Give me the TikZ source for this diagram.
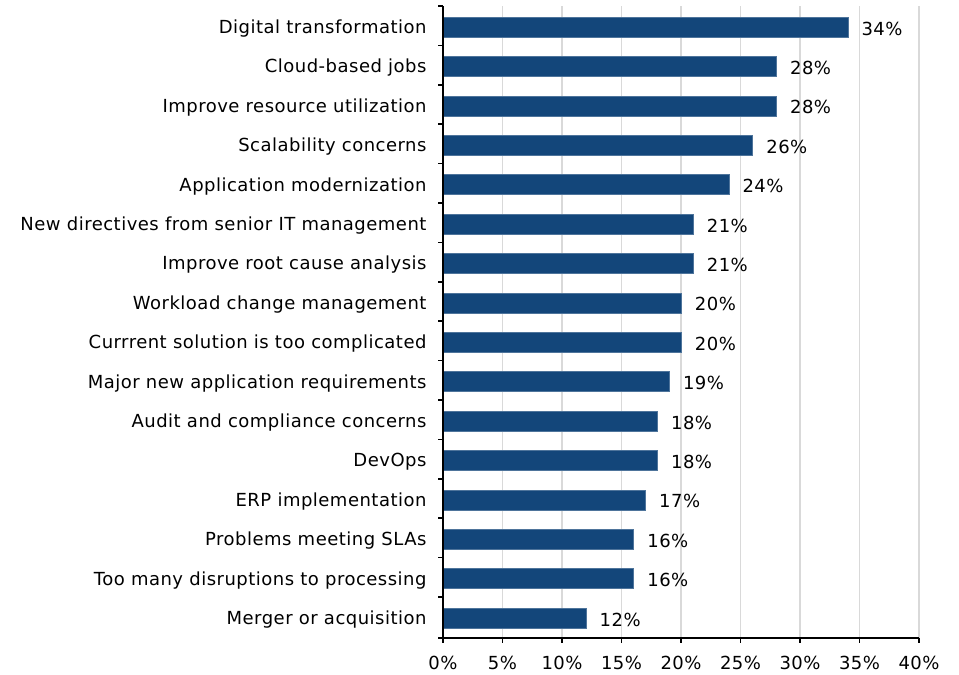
\documentclass[tikz,border=0pt]{standalone}
\usepackage{fontspec}
\setmainfont[LetterSpace=2.7]{DejaVu Sans}
\usetikzlibrary{positioning}

\definecolor{barblue}{RGB}{19,70,122}
\definecolor{gridgray}{RGB}{217,217,217}

\begin{document}
\begin{tikzpicture}[x=1pt,y=-1pt,font=\fontsize{18}{21}\selectfont]

\tikzstyle{bar} = [rectangle, anchor=west, inner sep=0pt, minimum height=20pt, draw=barblue!75!white, fill=barblue]
\tikzstyle{label} = [left=13pt of #1, yshift=-1.5pt]
\tikzstyle{value} = [right=10pt of #1, yshift=-1.5pt]
\tikzstyle{grid} = [gridgray, line width=1.5pt]
\tikzstyle{axis} = [black, line width=1.5pt]

\useasboundingbox (0,0) rectangle (959,675);

% grid
\draw [grid] (502.5,6) -- (502.5,638);
\draw [grid] (562,6) -- (562,638);
\draw [grid] (621.5,6) -- (621.5,638);
\draw [grid] (681,6) -- (681,638);
\draw [grid] (740.5,6) -- (740.5,638);
\draw [grid] (800,6) -- (800,638);
\draw [grid] (859.5,6) -- (859.5,638);
\draw [grid] (919,6) -- (919,638);

% bars
\node (b1) [bar, minimum width=34*11.9pt] at (443,27) {};
\node (b2) [bar, minimum width=28*11.9pt] at (443,66.4) {};
\node (b3) [bar, minimum width=28*11.9pt] at (443,105.8) {};
\node (b4) [bar, minimum width=26*11.9pt] at (443,145.2) {};
\node (b5) [bar, minimum width=24*11.9pt] at (443,184.6) {};
\node (b6) [bar, minimum width=21*11.9pt] at (443,224) {};
\node (b7) [bar, minimum width=21*11.9pt] at (443,263.4) {};
\node (b8) [bar, minimum width=20*11.9pt] at (443,302.8) {};
\node (b9) [bar, minimum width=20*11.9pt] at (443,342.2) {};
\node (b10) [bar, minimum width=19*11.9pt] at (443,381.6) {};
\node (b11) [bar, minimum width=18*11.9pt] at (443,421) {};
\node (b12) [bar, minimum width=18*11.9pt] at (443,460.4) {};
\node (b13) [bar, minimum width=17*11.9pt] at (443,499.8) {};
\node (b14) [bar, minimum width=16*11.9pt] at (443,539.2) {};
\node (b15) [bar, minimum width=16*11.9pt] at (443,578.6) {};
\node (b16) [bar, minimum width=12*11.9pt] at (443,618) {};

% categories
\node (l1) [label=b1] {Digital transformation};
\node (l2) [label=b2] {Cloud-based jobs};
\node (l3) [label=b3] {Improve resource utilization};
\node (l4) [label=b4] {Scalability concerns};
\node (l5) [label=b5] {Application modernization};
\node (l6) [label=b6] {New directives from senior IT management};
\node (l7) [label=b7] {Improve root cause analysis};
\node (l8) [label=b8] {Workload change management};
\node (l9) [label=b9] {Currrent solution is too complicated};
\node (l10) [label=b10] {Major new application requirements};
\node (l11) [label=b11] {Audit and compliance concerns};
\node (l12) [label=b12] {DevOps};
\node (l13) [label=b13] {ERP implementation};
\node (l14) [label=b14] {Problems meeting SLAs};
\node (l15) [label=b15] {Too many disruptions to processing};
\node (l16) [label=b16] {Merger or acquisition};

% values
\node (v1) [value=b1.east] {34\%};
\node (v2) [value=b2.east] {28\%};
\node (v3) [value=b3.east] {28\%};
\node (v4) [value=b4.east] {26\%};
\node (v5) [value=b5.east] {24\%};
\node (v6) [value=b6.east] {21\%};
\node (v7) [value=b7.east] {21\%};
\node (v8) [value=b8.east] {20\%};
\node (v9) [value=b9.east] {20\%};
\node (v10) [value=b10.east] {19\%};
\node (v11) [value=b11.east] {18\%};
\node (v12) [value=b12.east] {18\%};
\node (v13) [value=b13.east] {17\%};
\node (v14) [value=b14.east] {16\%};
\node (v15) [value=b15.east] {16\%};
\node (v16) [value=b16.east] {12\%};

% axes
\draw [axis] (443,6) -- (443,638) -- (919,638);
\draw [axis] (438,6) -- (443,6);
\draw [axis] (438,45.4) -- (443,45.4);
\draw [axis] (438,84.8) -- (443,84.8);
\draw [axis] (438,124.2) -- (443,124.2);
\draw [axis] (438,163.6) -- (443,163.6);
\draw [axis] (438,203) -- (443,203);
\draw [axis] (438,242.4) -- (443,242.4);
\draw [axis] (438,281.8) -- (443,281.8);
\draw [axis] (438,321.2) -- (443,321.2);
\draw [axis] (438,360.6) -- (443,360.6);
\draw [axis] (438,400) -- (443,400);
\draw [axis] (438,439.4) -- (443,439.4);
\draw [axis] (438,478.8) -- (443,478.8);
\draw [axis] (438,518.2) -- (443,518.2);
\draw [axis] (438,557.6) -- (443,557.6);
\draw [axis] (438,597) -- (443,597);
\draw [axis] (438,638) -- (443,638);
\draw [axis] (443,638) -- (443,643);
\draw [axis] (502.5,638) -- (502.5,643);
\draw [axis] (562,638) -- (562,643);
\draw [axis] (621.5,638) -- (621.5,643);
\draw [axis] (681,638) -- (681,643);
\draw [axis] (740.5,638) -- (740.5,643);
\draw [axis] (800,638) -- (800,643);
\draw [axis] (859.5,638) -- (859.5,643);
\draw [axis] (919,638) -- (919,643);

% tick labels
\node (t0) at (443,663) {0\%};
\node (t1) at (502.5,663) {5\%};
\node (t2) at (562,663) {10\%};
\node (t3) at (621.5,663) {15\%};
\node (t4) at (681,663) {20\%};
\node (t5) at (740.5,663) {25\%};
\node (t6) at (800,663) {30\%};
\node (t7) at (859.5,663) {35\%};
\node (t8) at (919,663) {40\%};

\end{tikzpicture}
\end{document}
